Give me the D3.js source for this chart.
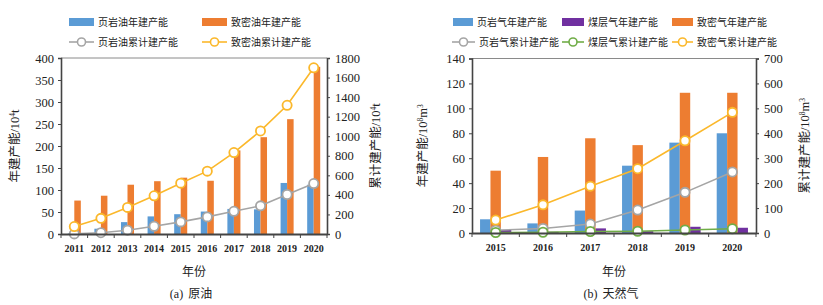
<!doctype html>
<html>
  <head>
    <meta charset="utf-8">
    <title>建产能</title>
    <script src="https://cdn.jsdelivr.net/npm/d3@7"></script>
    <style>
      body { margin: 0; background: #fff; }
      text { font-family: "Liberation Serif", "Noto Sans CJK SC", serif; fill: #222; }
    </style>
  </head>
  <body>
    <script>
      // 原油
      const oilYears = ['2011', '2012', '2013', '2014', '2015', '2016', '2017', '2018', '2019', '2020'];
      const shaleOilAnnual = [1, 12, 27, 40, 45, 51, 57, 56, 116, 112];
      const tightOilAnnual = [76, 87, 112, 120, 128, 121, 190, 220, 261, 380];
      const shaleOilCum = [1, 13, 39, 79, 124, 175, 232, 288, 404, 516];
      const tightOilCum = [76, 160, 272, 391, 520, 643, 833, 1054, 1316, 1700];
      const oilLeftTicks = [0, 50, 100, 150, 200, 250, 300, 350, 400];
      const oilRightTicks = [0, 200, 400, 600, 800, 1000, 1200, 1400, 1600, 1800];

      // 天然气
      const gasYears = ['2015', '2016', '2017', '2018', '2019', '2020'];
      const shaleGasAnnual = [11, 7.7, 18, 54, 72.5, 80];
      const cbmAnnual = [2.5, 1, 3.7, 1.5, 5, 4.2];
      const tightGasAnnual = [50, 61, 76, 70.5, 112.5, 112.5];
      const shaleGasCum = [11, 18, 36, 92, 163, 245];
      const cbmCum = [2, 3, 6, 7, 12, 17];
      const tightGasCum = [52, 113, 188, 258, 370, 484];
      const gasLeftTicks = [0, 20, 40, 60, 80, 100, 120, 140];
      const gasRightTicks = [0, 100, 200, 300, 400, 500, 600, 700];

      const colors = {
        blue: '#5b9bd5',
        orange: '#ed7d31',
        purple: '#7030a0',
        grey: '#a5a5a5',
        gold: '#fbb82b',
        green: '#70ad47'
      };

      const svg = d3.select('body').append('svg')
          .attr('width', 823)
          .attr('height', 305);

      // 竖排轴标题: 中文 + /10^n + 单位
      function axisTitle(g, xPos, yPos, parts) {
        const t = g.append('text')
            .attr('transform', `translate(${xPos},${yPos}) rotate(-90)`)
            .attr('text-anchor', 'middle')
            .attr('font-family', '"Noto Sans CJK SC", sans-serif')
            .attr('font-size', 12.5);
        t.append('tspan').text(parts[0]);
        t.append('tspan').attr('font-family', '"Liberation Serif", serif').text(parts[1]);
        t.append('tspan').attr('font-family', '"Liberation Serif", serif').attr('font-size', 7.5).attr('dy', -4.5).text(parts[2]);
        t.append('tspan').attr('font-family', '"Liberation Serif", serif').attr('dy', 4.5).text(parts[3]);
        if (parts[4]) {
          t.append('tspan').attr('font-family', '"Liberation Serif", serif').attr('font-size', 7.5).attr('dy', -4.5).text(parts[4]);
        }
      }

      function drawChart(cfg) {
        const g = svg.append('g');
        const { x0, x1, y0, y1 } = cfg.box;

        const x = d3.scaleBand().domain(cfg.categories).range([x0, x1]);
        const yL = d3.scaleLinear().domain([0, d3.max(cfg.leftTicks)]).range([y1, y0]);
        const yR = d3.scaleLinear().domain([0, d3.max(cfg.rightTicks)]).range([y1, y0]);

        const groupW = x.bandwidth() * cfg.groupRatio;
        const xs = d3.scaleBand()
            .domain(cfg.bars.map(b => b.name))
            .range([x.bandwidth() / 2 - groupW / 2, x.bandwidth() / 2 + groupW / 2]);

        // 上边框
        g.append('line').attr('x1', x0).attr('x2', x1).attr('y1', y0).attr('y2', y0)
            .attr('stroke', '#8a8a8a').attr('stroke-width', 1);

        // 柱
        cfg.bars.forEach(b => {
          g.append('g').selectAll('rect')
            .data(b.values)
            .enter().append('rect')
              .attr('x', (d, i) => x(cfg.categories[i]) + xs(b.name))
              .attr('y', d => yL(d))
              .attr('width', xs.bandwidth())
              .attr('height', d => y1 - yL(d))
              .attr('fill', b.color);
        });

        // 折线
        const line = d3.line()
            .x((d, i) => x(cfg.categories[i]) + x.bandwidth() / 2)
            .y(d => yR(d));
        cfg.lines.forEach(l => {
          g.append('path')
              .attr('d', line(l.values))
              .attr('fill', 'none')
              .attr('stroke', l.color)
              .attr('stroke-width', 1.6);
          g.append('g').selectAll('circle')
            .data(l.values)
            .enter().append('circle')
              .attr('cx', (d, i) => x(cfg.categories[i]) + x.bandwidth() / 2)
              .attr('cy', d => yR(d))
              .attr('r', 4.6)
              .attr('fill', '#fff')
              .attr('stroke', l.color)
              .attr('stroke-width', 1.8);
        });

        // 坐标轴
        const axisL = g.append('g')
            .attr('transform', `translate(${x0},0)`)
            .call(d3.axisLeft(yL).tickValues(cfg.leftTicks).tickFormat(d3.format('d'))
              .tickSizeOuter(0).tickSize(3).tickPadding(4));
        const axisR = g.append('g')
            .attr('transform', `translate(${x1},0)`)
            .call(d3.axisRight(yR).tickValues(cfg.rightTicks).tickFormat(d3.format('d'))
              .tickSizeOuter(0).tickSize(3).tickPadding(5));
        [axisL, axisR].forEach(a => {
          a.select('.domain').attr('stroke', '#444').attr('stroke-width', 1.6);
          a.selectAll('.tick line').attr('stroke', '#444');
          a.selectAll('.tick text')
              .attr('font-family', '"Liberation Serif", serif')
              .attr('font-size', 12.5)
              .attr('fill', '#222');
        });

        const axisB = g.append('g')
            .attr('transform', `translate(0,${y1})`)
            .call(d3.axisBottom(x).tickSize(0).tickPadding(11));
        axisB.select('.domain').attr('stroke', '#444').attr('stroke-width', 1.8);
        axisB.selectAll('.tick text')
            .attr('font-family', '"Liberation Serif", serif')
            .attr('font-size', 10)
            .attr('font-weight', 'bold')
            .attr('fill', '#333');
        // 类别分隔刻度
        g.append('g').selectAll('line')
          .data(d3.range(cfg.categories.length + 1))
          .enter().append('line')
            .attr('x1', i => x0 + i * x.step())
            .attr('x2', i => x0 + i * x.step())
            .attr('y1', y1)
            .attr('y2', y1 + 4)
            .attr('stroke', '#444');

        // 轴标题
        const midY = (y0 + y1) / 2;
        axisTitle(g, cfg.leftTitleX, midY, cfg.leftTitle);
        axisTitle(g, cfg.rightTitleX, midY, cfg.rightTitle);

        g.append('text')
            .attr('x', (x0 + x1) / 2).attr('y', 276)
            .attr('text-anchor', 'middle')
            .attr('font-family', '"Noto Sans CJK SC", sans-serif')
            .attr('font-size', 12)
            .text('年份');

        const cap = g.append('text')
            .attr('x', (x0 + x1) / 2 - 3).attr('y', 298)
            .attr('text-anchor', 'middle')
            .attr('font-size', 12);
        cap.append('tspan').attr('font-family', '"Liberation Serif", serif').text(cfg.caption[0]);
        cap.append('tspan').attr('font-family', '"Noto Sans CJK SC", sans-serif').attr('dx', 5).text(cfg.caption[1]);

        // 图例
        cfg.legend.forEach(item => {
          const lg = g.append('g').attr('transform', `translate(${item.x},${item.y})`);
          if (item.type === 'bar') {
            lg.append('rect').attr('x', 0).attr('y', -4).attr('width', item.w).attr('height', 8).attr('fill', item.color);
          } else {
            lg.append('line').attr('x1', 0).attr('x2', item.w).attr('y1', 0).attr('y2', 0)
                .attr('stroke', item.color).attr('stroke-width', 1.6);
            lg.append('circle').attr('cx', item.w / 2).attr('cy', 0).attr('r', 4)
                .attr('fill', '#fff').attr('stroke', item.color).attr('stroke-width', 1.6);
          }
          lg.append('text')
              .attr('x', item.w + 4).attr('y', 4)
              .attr('font-family', '"Noto Sans CJK SC", sans-serif')
              .attr('font-size', 10)
              .attr('fill', '#333')
              .text(item.label);
        });
      }

      drawChart({
        box: { x0: 61, x1: 327, y0: 58, y1: 234 },
        categories: oilYears,
        leftTicks: oilLeftTicks,
        rightTicks: oilRightTicks,
        groupRatio: 0.49,
        bars: [
          { name: '页岩油年建产能', values: shaleOilAnnual, color: colors.blue },
          { name: '致密油年建产能', values: tightOilAnnual, color: colors.orange }
        ],
        lines: [
          { name: '页岩油累计建产能', values: shaleOilCum, color: colors.grey },
          { name: '致密油累计建产能', values: tightOilCum, color: colors.gold }
        ],
        leftTitle: ['年建产能', '/10', '4', 't'],
        rightTitle: ['累计建产能', '/10', '4', 't'],
        leftTitleX: 19,
        rightTitleX: 380,
        caption: ['(a)', '原油'],
        legend: [
          { type: 'bar', x: 69, y: 22, w: 25, color: colors.blue, label: '页岩油年建产能' },
          { type: 'bar', x: 202, y: 22, w: 25, color: colors.orange, label: '致密油年建产能' },
          { type: 'line', x: 69, y: 42, w: 25, color: colors.grey, label: '页岩油累计建产能' },
          { type: 'line', x: 202, y: 42, w: 25, color: colors.gold, label: '致密油累计建产能' }
        ]
      });

      drawChart({
        box: { x0: 472, x1: 756, y0: 58.5, y1: 233 },
        categories: gasYears,
        leftTicks: gasLeftTicks,
        rightTicks: gasRightTicks,
        groupRatio: 0.66,
        bars: [
          { name: '页岩气年建产能', values: shaleGasAnnual, color: colors.blue },
          { name: '致密气年建产能', values: tightGasAnnual, color: colors.orange },
          { name: '煤层气年建产能', values: cbmAnnual, color: colors.purple }
        ],
        lines: [
          { name: '页岩气累计建产能', values: shaleGasCum, color: colors.grey },
          { name: '煤层气累计建产能', values: cbmCum, color: colors.green },
          { name: '致密气累计建产能', values: tightGasCum, color: colors.gold }
        ],
        leftTitle: ['年建产能', '/10', '8', 'm', '3'],
        rightTitle: ['累计建产能', '/10', '8', 'm', '3'],
        leftTitleX: 427,
        rightTitleX: 809,
        caption: ['(b)', '天然气'],
        legend: [
          { type: 'bar', x: 453, y: 22, w: 20, color: colors.blue, label: '页岩气年建产能' },
          { type: 'bar', x: 562, y: 22, w: 22, color: colors.purple, label: '煤层气年建产能' },
          { type: 'bar', x: 672, y: 22, w: 21, color: colors.orange, label: '致密气年建产能' },
          { type: 'line', x: 452, y: 42, w: 23, color: colors.grey, label: '页岩气累计建产能' },
          { type: 'line', x: 562, y: 42, w: 22, color: colors.green, label: '煤层气累计建产能' },
          { type: 'line', x: 672, y: 42, w: 21, color: colors.gold, label: '致密气累计建产能' }
        ]
      });
    </script>
  </body>
</html>
